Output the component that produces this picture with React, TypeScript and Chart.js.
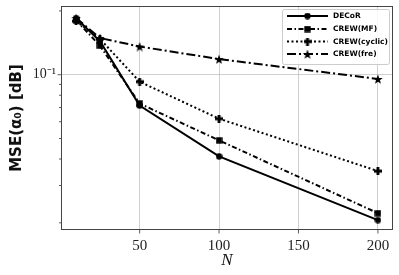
import React, { useEffect, useRef } from "react";
import { Chart, registerables } from "chart.js";

Chart.register(...registerables);

const nValues = [10, 25, 50, 100, 200];
const decor = [0.185, 0.144, 0.0715, 0.0412, 0.0206];
const crewMF = [0.181, 0.137, 0.0731, 0.049, 0.0222];
const crewCyclic = [0.179, 0.1476, 0.0927, 0.062, 0.0351];
const crewFre = [0.185, 0.149, 0.1358, 0.1185, 0.0955];
const seriesNames = ["DECoR", "CREW(MF)", "CREW(cyclic)", "CREW(fre)"];
const xTicks = [50, 100, 150, 200];
const yTicks = [0.02, 0.03, 0.04, 0.05, 0.06, 0.07, 0.08, 0.09, 0.1, 0.2];
const yMajor = [0.1];
const yMajorLabels = ["10⁻¹"];

function makeMarker(shape: string, size: number): HTMLCanvasElement {
  const c = document.createElement("canvas");
  c.width = size;
  c.height = size;
  const g = c.getContext("2d")!;
  g.fillStyle = "#000";
  const r = size / 2;
  g.beginPath();
  if (shape === "circle") {
    g.arc(r, r, r - 0.3, 0, Math.PI * 2);
  } else if (shape === "square") {
    g.rect(0.3, 0.3, size - 0.6, size - 0.6);
  } else if (shape === "plus") {
    const w = size * 0.36;
    g.rect(r - w / 2, 0, w, size);
    g.rect(0, r - w / 2, size, w);
  } else if (shape === "star") {
    const ro = r;
    const ri = r * 0.42;
    for (let i = 0; i < 10; i++) {
      const rad = i % 2 === 0 ? ro : ri;
      const a = -Math.PI / 2 + (i * Math.PI) / 5;
      const px = r + rad * Math.cos(a);
      const py = r + 0.6 + rad * Math.sin(a);
      if (i === 0) g.moveTo(px, py);
      else g.lineTo(px, py);
    }
    g.closePath();
  }
  g.fill();
  return c;
}

export default function App() {
  const ref = useRef<HTMLCanvasElement | null>(null);

  useEffect(() => {
    document.body.style.margin = "0";
    const canvas = ref.current!;
    const markers = [
      makeMarker("circle", 7),
      makeMarker("square", 7),
      makeMarker("plus", 8),
      makeMarker("star", 10),
    ];
    const dashes = [[], [5, 2.5, 1.5, 2.5], [2, 2.5], [9, 3, 2, 3]];
    const values = [decor, crewMF, crewCyclic, crewFre];

    const overlay = {
      id: "overlay",
      afterDatasetsDraw(chart: any) {
        const ctx = chart.ctx;
        const a = chart.chartArea;
        const xs = chart.scales.x;
        const ys = chart.scales.y;
        ctx.save();
        ctx.strokeStyle = "#333";
        ctx.lineWidth = 0.8;
        ctx.setLineDash([]);
        yTicks.forEach((v) => {
          const py = ys.getPixelForValue(v);
          const len = yMajor.includes(v) ? 3.5 : 2;
          ctx.beginPath();
          ctx.moveTo(a.left, py);
          ctx.lineTo(a.left - len, py);
          ctx.stroke();
        });
        xTicks.forEach((v) => {
          const px = xs.getPixelForValue(v);
          ctx.beginPath();
          ctx.moveTo(px, a.bottom);
          ctx.lineTo(px, a.bottom + 3.5);
          ctx.stroke();
        });
        ctx.strokeStyle = "#444";
        ctx.lineWidth = 1;
        ctx.strokeRect(a.left + 0.5, a.top + 0.5, a.right - a.left - 1, a.bottom - a.top - 1);

        // legend
        const bx = 282.5, by = 9.5, bw = 107, bh = 55;
        ctx.fillStyle = "rgba(255,255,255,0.85)";
        ctx.strokeStyle = "#cccccc";
        ctx.lineWidth = 1;
        ctx.beginPath();
        (ctx as any).roundRect(bx, by, bw, bh, 2);
        ctx.fill();
        ctx.stroke();
        const rows = [16, 29, 41.5, 54];
        ctx.font = "bold 7.5px 'DejaVu Sans'";
        ctx.textBaseline = "middle";
        ctx.textAlign = "left";
        seriesNames.forEach((name, i) => {
          const y = rows[i];
          ctx.strokeStyle = "#000";
          ctx.lineWidth = 2;
          ctx.setLineDash(dashes[i]);
          ctx.beginPath();
          ctx.moveTo(287, y);
          ctx.lineTo(328, y);
          ctx.stroke();
          const m = markers[i];
          ctx.drawImage(m, 307.5 - m.width / 2, y - m.height / 2);
          ctx.fillStyle = "#000";
          ctx.fillText(name, 333, y + 0.5);
        });
        ctx.restore();
      },
    };

    const chart = new Chart(canvas, {
      type: "line",
      data: {
        datasets: seriesNames.map((name, i) => ({
          label: name,
          data: nValues.map((n, j) => ({ x: n, y: values[i][j] })),
          borderColor: "#000",
          backgroundColor: "#000",
          borderWidth: 2,
          borderDash: dashes[i],
          pointStyle: markers[i] as any,
          pointRadius: 4,
          pointHoverRadius: 4,
          tension: 0,
          fill: false,
        })),
      },
      options: {
        responsive: false,
        animation: false,
        events: [],
        layout: { padding: { top: 5, right: 6, left: 0, bottom: 0 } },
        plugins: { legend: { display: false }, tooltip: { enabled: false } },
        scales: {
          x: {
            type: "linear",
            min: 0.5,
            max: 209.5,
            afterBuildTicks: (s: any) => {
              s.ticks = xTicks.map((v) => ({ value: v }));
            },
            afterFit: (s: any) => {
              s.height = 45;
              s.paddingLeft = 0;
              s.paddingRight = 0;
            },
            grid: {
              color: "rgba(176,176,176,0.6)",
              lineWidth: 1,
              drawTicks: false,
            },
            border: { display: false },
            ticks: {
              padding: 7,
              color: "#222",
              font: { family: "'Liberation Serif'", size: 15 },
              maxRotation: 0,
              callback: (v: any) => String(v),
            },
            title: {
              display: true,
              text: "N",
              color: "#111",
              padding: { top: 0, bottom: 4 },
              font: { family: "'Liberation Serif'", size: 17, style: "italic" },
            },
          },
          y: {
            type: "logarithmic",
            min: 0.0185,
            max: 0.211,
            afterBuildTicks: (s: any) => {
              s.ticks = yTicks.map((v) => ({ value: v, major: yMajor.includes(v) }));
            },
            afterFit: (s: any) => {
              s.width = 61;
              s.paddingTop = 0;
              s.paddingBottom = 0;
            },
            grid: {
              color: (c: any) =>
                c.tick && yMajor.includes(c.tick.value) ? "rgba(176,176,176,0.6)" : "rgba(0,0,0,0)",
              lineWidth: 1,
              drawTicks: false,
            },
            border: { display: false },
            ticks: {
              padding: 5,
              color: "#222",
              autoSkip: false,
              font: { family: "'Liberation Serif'", size: 14 },
              callback: (v: any) => {
                const k = yMajor.indexOf(Number(v));
                return k >= 0 ? yMajorLabels[k] : "";
              },
            },
            title: {
              display: true,
              text: "MSE(α₀) [dB]",
              color: "#111",
              padding: { top: 8, bottom: 0 },
              font: { family: "'DejaVu Sans'", size: 15, weight: "bold" },
            },
          },
        },
      },
      plugins: [overlay],
    });
    return () => chart.destroy();
  }, []);

  return <canvas ref={ref} width={399} height={275} style={{ display: "block" }} />;
}
